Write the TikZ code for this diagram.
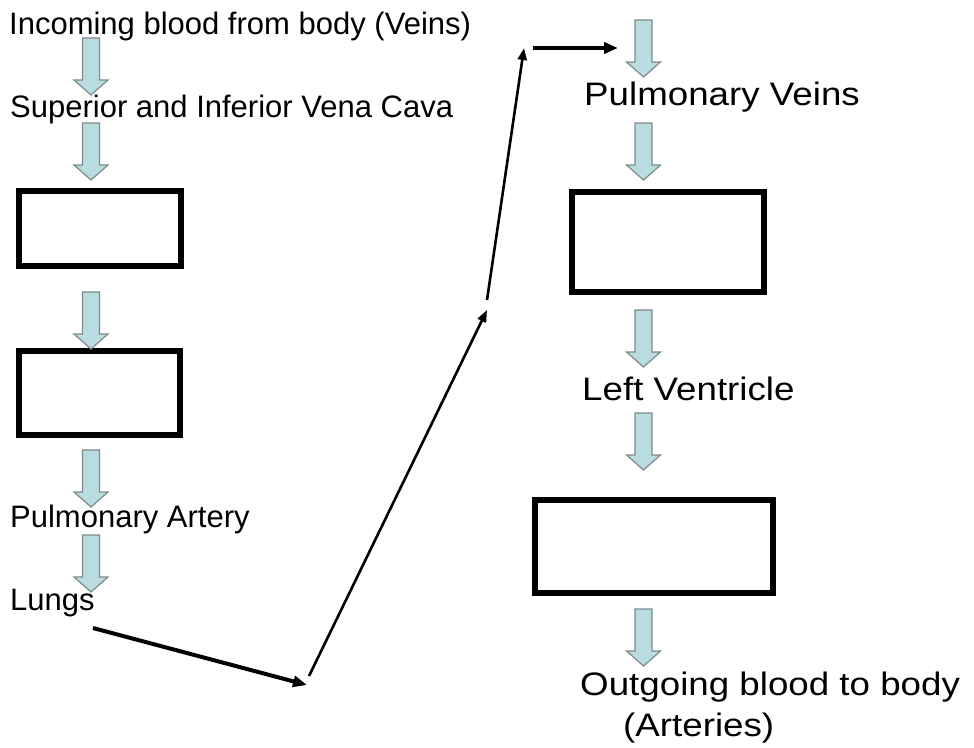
\documentclass[tikz,border=0pt]{standalone}
\usepackage{fontspec}
\setmainfont{Liberation Sans}
\usetikzlibrary{arrows.meta}
\definecolor{bafill}{RGB}{184,220,224}
\definecolor{badraw}{RGB}{125,140,140}
\tikzset{
  blockarrow/.pic={\filldraw[fill=bafill,draw=badraw,line width=1.2pt,line join=miter]
      (-8.5,0) -- (8.5,0) -- (8.5,42) -- (17,42) -- (0,57) -- (-17,42) -- (-8.5,42) -- cycle;},
  box/.style={draw=black,line width=6pt,fill=white,inner sep=0pt},
  ltext/.style={anchor=base west,inner sep=0pt,font=\fontsize{31}{36}\selectfont},
  rtext/.style={anchor=base west,inner sep=0pt,font=\fontsize{32.5}{38}\selectfont,xscale=1.13},
  flow/.style={line width=4pt,-{Triangle[length=14pt,width=11pt]}},
  thinflow/.style={line width=2.6pt,-{Triangle[length=12pt,width=9pt]}}
}
\begin{document}
\begin{tikzpicture}[x=1pt,y=-1pt]
\path[use as bounding box,fill=white] (0,0) rectangle (974,747);

% left column texts
\node[ltext] (t1) at (9,34) {Incoming blood from body (Veins)};
\node[ltext] (t2) at (10,117) {Superior and Inferior Vena Cava};
\node[ltext] (t3) at (10,527) {Pulmonary Artery};
\node[ltext] (t4) at (10,610) {Lungs};

% left boxes
\node[box,minimum width=162pt,minimum height=75pt] (b1) at (100,228.5) {};
\node[box,minimum width=161pt,minimum height=84pt] (b2) at (99.5,393) {};

% left block arrows
\pic at (91,38) {blockarrow};
\pic at (91,123) {blockarrow};
\pic at (91,292) {blockarrow};
\pic at (91,450) {blockarrow};
\pic at (91,535) {blockarrow};

% right column texts
\node[rtext] (r1) at (584,105) {Pulmonary Veins};
\node[rtext] (r2) at (582,400) {Left Ventricle};
\node[rtext] (r3) at (580,695) {Outgoing blood to body};
\node[rtext] (r4) at (623,736) {(Arteries)};

% right boxes
\node[box,minimum width=192pt,minimum height=100pt] (b3) at (668,242) {};
\node[box,minimum width=238pt,minimum height=93pt] (b4) at (654,546.5) {};

% right block arrows
\pic at (643.5,20) {blockarrow};
\pic at (643.5,123) {blockarrow};
\pic at (643.5,310) {blockarrow};
\pic at (643.5,413) {blockarrow};
\pic at (643.5,609) {blockarrow};

% connector path
\coordinate (p0) at (93,628);
\coordinate (p1) at (307,685);
\coordinate (p2) at (309,676);
\coordinate (p3) at (487,310);
\coordinate (p4) at (487,300);
\coordinate (p5) at (524,48);
\coordinate (p6) at (533,48);
\coordinate (p7) at (618,48);
\draw[flow] (p0) -- (p1);
\draw[thinflow] (p2) -- (p3);
\draw[thinflow] (p4) -- (p5);
\draw[flow] (p6) -- (p7);
\end{tikzpicture}
\end{document}
